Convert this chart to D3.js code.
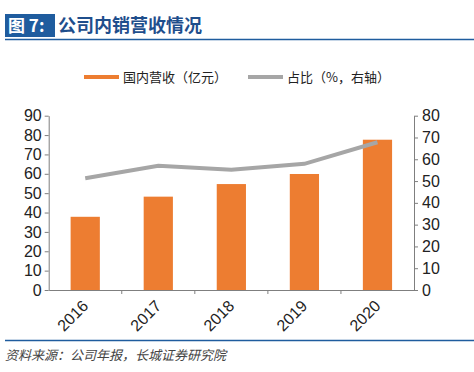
<!DOCTYPE html>
<html>
<head>
<meta charset="utf-8">
<script src="https://cdn.jsdelivr.net/npm/d3@7"></script>
<style>
body { margin: 0; background: #fff; }
svg { display: block; }
</style>
</head>
<body>
<script>
var years = ['2016', '2017', '2018', '2019', '2020'];
var revenue = [37.8, 48.2, 54.7, 59.9, 77.6];   // 国内营收（亿元）
var share = [51.3, 57.0, 55.2, 57.9, 67.8];     // 占比（%）
var leftTicks = [0, 10, 20, 30, 40, 50, 60, 70, 80, 90];
var rightTicks = [0, 10, 20, 30, 40, 50, 60, 70, 80];

var width = 474, height = 372;
var cn = '"Noto Sans CJK SC", sans-serif';
var num = '"Liberation Sans", Arial, sans-serif';

var svg = d3.select('body').append('svg')
    .attr('width', width)
    .attr('height', height);

// title bar
svg.append('rect').attr('x', 5).attr('y', 14).attr('width', 50).attr('height', 23).attr('fill', '#1f5c9e');
svg.append('text').attr('x', 8).attr('y', 32).attr('fill', '#fff')
    .style('font-family', cn).style('font-size', '17px').style('font-weight', 'bold')
    .text('图 7:');
svg.append('text').attr('x', 58).attr('y', 32).attr('fill', '#1f4e8c')
    .style('font-family', cn).style('font-size', '18px').style('font-weight', 'bold')
    .text('公司内销营收情况');
svg.append('line').attr('x1', 5).attr('x2', 474).attr('y1', 39.5).attr('y2', 39.5)
    .attr('stroke', '#1f5c9e').attr('stroke-width', 1.5);

// legend
var legend = [
    {label: '国内营收（亿元）', color: '#ed7d31', x: 84},
    {label: '占比（%，右轴）', color: '#a6a6a6', x: 248}
];
var lg = svg.selectAll('g.legend').data(legend).enter().append('g').attr('class', 'legend');
lg.append('line').attr('x1', function(d) { return d.x; }).attr('x2', function(d) { return d.x + 35; })
    .attr('y1', 77).attr('y2', 77)
    .attr('stroke', function(d) { return d.color; }).attr('stroke-width', 4);
lg.append('text').attr('x', function(d) { return d.x + 39; }).attr('y', 82)
    .style('font-family', cn).style('font-size', '13px').attr('fill', '#222')
    .text(function(d) { return d.label; });

// plot area
var x0 = 48.7, x1 = 414, yTop = 115.7, yBot = 290;

var x = d3.scaleBand().domain(years).range([x0, x1]).paddingInner(0.6).paddingOuter(0.3);
var xb = d3.scaleBand().domain(years).range([x0, x1]);
var yL = d3.scaleLinear().domain([0, 90]).range([yBot, yTop]);
var yR = d3.scaleLinear().domain([0, 80]).range([yBot, yTop]);

svg.selectAll('rect.bar')
    .data(revenue)
    .enter()
    .append('rect')
    .attr('class', 'bar')
    .attr('x', function(d, i) { return x(years[i]); })
    .attr('width', x.bandwidth())
    .attr('y', function(d) { return yL(d); })
    .attr('height', function(d) { return yBot - yL(d); })
    .attr('fill', '#ed7d31');

var line = d3.line()
    .x(function(d, i) { return xb(years[i]) + xb.bandwidth() / 2; })
    .y(function(d) { return yR(d); });
svg.append('path').datum(share)
    .attr('d', line)
    .attr('fill', 'none')
    .attr('stroke', '#a6a6a6')
    .attr('stroke-width', 4);

// axes
function styleAxis(g) {
    g.selectAll('path, line').attr('stroke', '#7f7f7f');
    g.selectAll('text').style('font-family', num).style('font-size', '16px').attr('fill', '#222');
}

svg.append('g').attr('transform', 'translate(' + x0 + ',0)')
    .call(d3.axisLeft(yL).tickValues(leftTicks).tickSize(4).tickSizeOuter(0).tickPadding(3))
    .call(styleAxis);

svg.append('g').attr('transform', 'translate(' + x1 + ',0)')
    .call(d3.axisRight(yR).tickValues(rightTicks).tickSize(4).tickSizeOuter(0).tickPadding(4))
    .call(styleAxis);

var xAxis = svg.append('g').attr('transform', 'translate(0,' + yBot + ')')
    .call(d3.axisBottom(xb).tickSize(0).tickSizeOuter(0).tickPadding(0))
    .call(styleAxis);
xAxis.selectAll('text')
    .attr('text-anchor', 'end')
    .attr('dy', 0)
    .attr('transform', 'translate(4,17) rotate(-45)');
// boundary ticks between categories
xAxis.selectAll('line.sep')
    .data(years.slice(1))
    .enter()
    .append('line')
    .attr('class', 'sep')
    .attr('x1', function(d) { return xb(d); })
    .attr('x2', function(d) { return xb(d); })
    .attr('y1', 0).attr('y2', 4)
    .attr('stroke', '#7f7f7f');

// footer
svg.append('line').attr('x1', 5).attr('x2', 474).attr('y1', 340.5).attr('y2', 340.5)
    .attr('stroke', '#1f5c9e').attr('stroke-width', 1.5);
svg.append('text').attr('x', 5).attr('y', 360)
    .style('font-family', cn).style('font-size', '13px').style('font-style', 'italic')
    .attr('fill', '#444')
    .text('资料来源：公司年报，长城证券研究院');
</script>
</body>
</html>
